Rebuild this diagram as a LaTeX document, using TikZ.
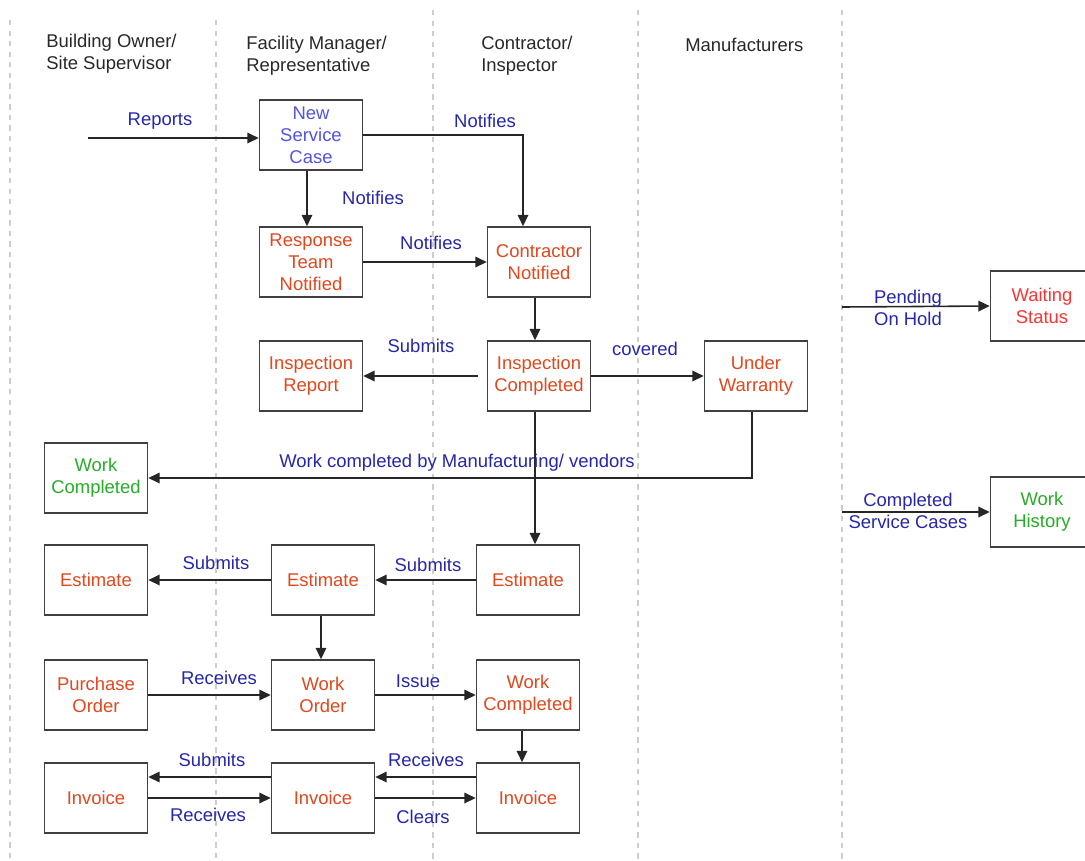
\documentclass[tikz,border=0pt]{standalone}
\usepackage{fontspec}
\setmainfont{Liberation Sans}
\usetikzlibrary{arrows.meta}

\definecolor{lanegray}{RGB}{205,205,205}
\definecolor{headgray}{RGB}{40,40,40}
\definecolor{stepred}{RGB}{224,72,30}
\definecolor{donegreen}{RGB}{40,172,40}
\definecolor{linkblue}{RGB}{38,38,170}
\definecolor{caseblue}{RGB}{84,84,222}
\definecolor{holdred}{RGB}{250,52,52}

\begin{document}
\begin{tikzpicture}[x=0.02cm, y=-0.02cm,
    every node/.style={font=\fontsize{10.5}{12.5}\selectfont, align=center},
    box/.style={draw=black!75, line width=0.9pt, fill=white,
      minimum width=2.06cm, minimum height=1.4cm, inner sep=1pt, text=stepred},
    lbl/.style={text=linkblue, inner sep=0pt},
    head/.style={text=headgray, align=left, anchor=west, inner sep=0pt},
    arr/.style={-{Triangle[length=6.5pt,width=6pt]}, line width=0.9pt, black!85},
    lane/.style={lanegray, line width=0.6pt, dash pattern=on 3pt off 3pt}]
  \useasboundingbox (0,0) rectangle (1085,860);

  % Swim lanes
  \foreach \x/\y in {10/20, 216/20, 433/10, 638/10, 842/10}
    \draw[lane] (\x,\y) -- (\x,860);

  % Lane headings
  \node[head] (owner) at (46,54) {Building Owner/\\Site Supervisor};
  \node[head] (manager) at (246,56) {Facility Manager/\\Representative};
  \node[head] (inspector) at (481,56) {Contractor/\\Inspector};
  \node[head] (makers) at (685,45) {Manufacturers};

  % Boxes
  \node[box, text=caseblue] (newcase) at (311,135) {New\\Service\\Case};
  \node[box] (response) at (311,262) {Response\\Team\\Notified};
  \node[box] (contractor) at (539,262) {Contractor\\Notified};
  \node[box] (insprep) at (311,376) {Inspection\\Report};
  \node[box] (inspdone) at (539,376) {Inspection\\Completed};
  \node[box] (warranty) at (756,376) {Under\\Warranty};
  \node[box, text=donegreen] (workdone) at (96,478) {Work\\Completed};
  \node[box] (estO) at (96,580) {Estimate};
  \node[box] (estF) at (323,580) {Estimate};
  \node[box] (estC) at (528,580) {Estimate};
  \node[box] (purchase) at (96,695) {Purchase\\Order};
  \node[box] (workorder) at (323,695) {Work\\Order};
  \node[box] (workdoneC) at (528,695) {Work\\Completed};
  \node[box] (invO) at (96,798) {Invoice};
  \node[box] (invF) at (323,798) {Invoice};
  \node[box] (invC) at (528,798) {Invoice};
  \node[box, text=holdred] (waiting) at (1042,306) {Waiting\\Status};
  \node[box, text=donegreen] (history) at (1042,512) {Work\\History};

  % Loose ends
  \coordinate (caller) at (88,138);
  \coordinate (holdin) at (842,307);
  \coordinate (histin) at (842,512);

  % Connectors
  \draw[arr] (caller) -- (caller -| newcase.west);
  \draw[arr] (newcase.east) -| ([xshift=-0.32cm]contractor.north);
  \draw[arr] ([xshift=-0.08cm]newcase.south) -- ([xshift=-0.08cm]response.north);
  \draw[arr] (response.east) -- (contractor.west);
  \draw[arr] ([xshift=-0.08cm]contractor.south) -- ([xshift=-0.08cm]inspdone.north);
  \draw[arr, shorten <=0.18cm] (inspdone.west) -- (insprep.east);
  \draw[arr] (inspdone.east) -- (warranty.west);
  \draw[arr] ([xshift=-0.08cm]warranty.south) |- (workdone.east);
  \draw[arr] ([xshift=-0.08cm]inspdone.south) -- ([xshift=-0.08cm]inspdone.south |- estC.north);
  \draw[arr] (estC.west) -- (estF.east);
  \draw[arr] (estF.west) -- (estO.east);
  \draw[arr] ([xshift=-0.04cm]estF.south) -- ([xshift=-0.04cm]workorder.north);
  \draw[arr] (purchase.east) -- (workorder.west);
  \draw[arr] (workorder.east) -- (workdoneC.west);
  \draw[arr] ([xshift=-0.12cm]workdoneC.south) -- ([xshift=-0.12cm]invC.north);
  \draw[arr] ([yshift=0.42cm]invC.west) -- ([yshift=0.42cm]invF.east);
  \draw[arr] (invF.east) -- (invC.west);
  \draw[arr] ([yshift=0.42cm]invF.west) -- ([yshift=0.42cm]invO.east);
  \draw[arr] (invO.east) -- (invF.west);
  \draw[arr] (holdin) -- (waiting.west);
  \draw[arr] (histin) -- (history.west);

  % Connector labels
  \node[lbl] (reports) at (160,121) {Reports};
  \node[lbl] (notifyC) at (485,121) {Notifies};
  \node[lbl] (notifyR) at (373,198) {Notifies};
  \node[lbl] (notifyN) at (431,243) {Notifies};
  \node[lbl] (submitR) at (421,346) {Submits};
  \node[lbl] (covered) at (645,349) {covered};
  \node[lbl] (vendors) at (457,463) {Work completed by Manufacturing/ vendors};
  \node[lbl] (submitE) at (428,565) {Submits};
  \node[lbl] (submitO) at (216,563) {Submits};
  \node[lbl] (receivePO) at (219,678) {Receives};
  \node[lbl] (issue) at (418,681) {Issue};
  \node[lbl] (receiveI) at (426,760) {Receives};
  \node[lbl] (clears) at (423,817) {Clears};
  \node[lbl] (submitI) at (212,760) {Submits};
  \node[lbl] (receiveO) at (208,815) {Receives};
  \node[lbl] (pending) at (908,308) {Pending\\On Hold};
  \node[lbl] (closed) at (908,511) {Completed\\Service Cases};
\end{tikzpicture}
\end{document}
